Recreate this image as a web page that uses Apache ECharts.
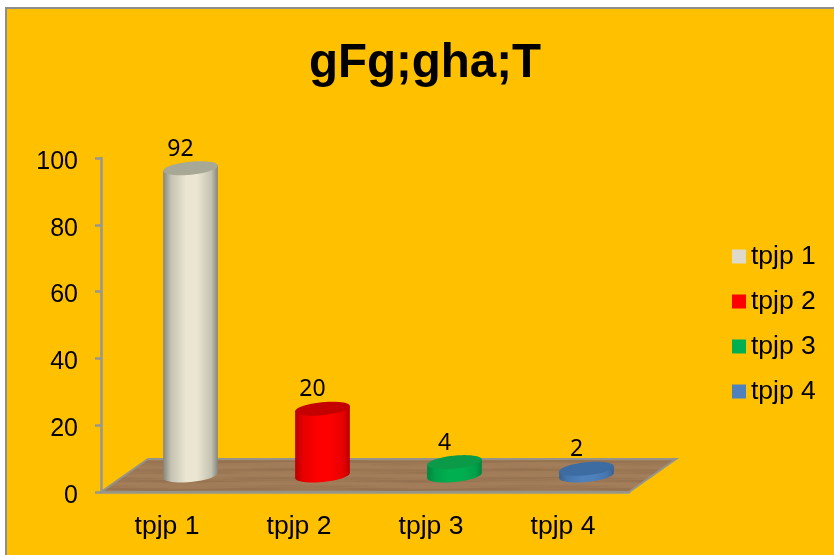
<!DOCTYPE html>
<html>
<head>
<meta charset="utf-8">
<title>gFg;gha;T</title>
<script src="https://cdn.jsdelivr.net/npm/echarts@6/dist/echarts.min.js"></script>
<style>
html, body { margin: 0; padding: 0; background: #fff; overflow: hidden; }
#main { width: 834px; height: 555px; }
</style>
</head>
<body>
<div id="main"></div>
<script>
var titleText = "gFg;gha;T";
var categories = ["tpjp 1", "tpjp 2", "tpjp 3", "tpjp 4"];
var seriesNames = ["tpjp 1", "tpjp 2", "tpjp 3", "tpjp 4"];
var seriesValues = [92, 20, 4, 2];
var yTicks = { min: 0, max: 100, interval: 20 };

// colours of each cylinder: edge, soft, middle, lid, legend
var cylinderColors = [
    { edge: "#85857a", soft: "#c4c2b1", mid: "#ebe6d2", lid: "#a8a896", legend: "#dddacb" },
    { edge: "#b80000", soft: "#e60000", mid: "#ff0000", lid: "#c40000", legend: "#ff0000" },
    { edge: "#00863c", soft: "#00a049", mid: "#00b050", lid: "#0b9a48", legend: "#00b050" },
    { edge: "#38618f", soft: "#4675ad", mid: "#4f81bd", lid: "#3d6ca3", legend: "#4f81bd" }
];

// the 3d look: depth of the floor, cylinder size
var depthX = 47, depthY = 33;
var radiusX = 27.5, radiusY = 6.5, tilt = 0.1;

// wood texture for the floor, repeats cleanly across its width
function woodTexture() {
    var w = 240, h = 36;
    var c = document.createElement("canvas");
    c.width = w;
    c.height = h;
    var ctx = c.getContext("2d");
    ctx.fillStyle = "#a07b58";
    ctx.fillRect(0, 0, w, h);
    for (var y = 0; y < h; y++) {
        for (var x = 0; x < w; x += 4) {
            var t = Math.PI * 2 * x / w;
            var n = Math.sin(y * Math.PI * 2 / 9 + Math.sin(t) * 0.8) + Math.sin(y * Math.PI * 2 / 4 + Math.sin(t * 2 + y)) * 0.5;
            ctx.fillStyle = n > 0 ? "rgba(80,50,28," + (n * 0.09) + ")" : "rgba(190,150,115," + (-n * 0.1) + ")";
            ctx.fillRect(x, y, 4, 1);
        }
    }
    return c;
}
var wood = woodTexture();

function renderFloor(params, api) {
    var cs = params.coordSys;
    var x0 = cs.x, x1 = cs.x + cs.width, y0 = cs.y + cs.height;
    return {
        type: "polygon",
        shape: { points: [[x0, y0], [x1, y0], [x1 + depthX, y0 - depthY], [x0 + depthX, y0 - depthY]] },
        style: { fill: { image: wood, repeat: "repeat" }, stroke: "#95938a", lineWidth: 2 }
    };
}

function ellipsePoint(cx, cy, a) {
    var ex = radiusX * Math.cos(a), ey = radiusY * Math.sin(a);
    return [cx + ex * Math.cos(tilt) + ey * Math.sin(tilt), cy - ex * Math.sin(tilt) + ey * Math.cos(tilt)];
}

function cylinderRenderer(colors) {
    return function (params, api) {
        var base = api.coord([api.value(0), 0]);
        var top = api.coord([api.value(0), api.value(1)]);
        var cx = base[0] + depthX / 2, by = base[1] - depthY / 2, ty = top[1] - depthY / 2;
        var body = [], lid = [], i;
        body.push(ellipsePoint(cx, ty, Math.PI));
        for (i = 0; i <= 24; i++) {
            body.push(ellipsePoint(cx, by, Math.PI - Math.PI * i / 24));
        }
        body.push(ellipsePoint(cx, ty, 0));
        for (i = 0; i < 48; i++) {
            lid.push(ellipsePoint(cx, ty, Math.PI * 2 * i / 48));
        }
        var fill = new echarts.graphic.LinearGradient(0, 0, 1, 0, [
            { offset: 0, color: colors.edge },
            { offset: 0.14, color: colors.soft },
            { offset: 0.42, color: colors.mid },
            { offset: 0.62, color: colors.mid },
            { offset: 0.88, color: colors.soft },
            { offset: 1, color: colors.edge }
        ]);
        return {
            type: "group",
            children: [
                { type: "polygon", shape: { points: body }, style: { fill: fill } },
                { type: "polygon", shape: { points: lid }, style: { fill: colors.lid } },
                {
                    type: "text",
                    style: {
                        text: String(api.value(1)),
                        x: cx - 10,
                        y: ty - 19,
                        align: "center",
                        verticalAlign: "middle",
                        fill: "#000",
                        font: "23px 'Noto Sans'"
                    }
                }
            ]
        };
    };
}

var series = [{
    type: "custom",
    name: "floor",
    silent: true,
    z: 1,
    clip: false,
    data: [[0, 0]],
    renderItem: renderFloor
}];
seriesNames.forEach(function (name, i) {
    series.push({
        type: "custom",
        name: name,
        z: 3,
        clip: false,
        itemStyle: { color: cylinderColors[i].legend },
        encode: { x: 0, y: 1 },
        data: [[i, seriesValues[i]]],
        renderItem: cylinderRenderer(cylinderColors[i])
    });
});

var chart = echarts.init(document.getElementById("main"), null, { renderer: "canvas" });
chart.setOption({
    animation: false,
    backgroundColor: "#fff",
    graphic: [{
        type: "rect",
        z: -10,
        silent: true,
        shape: { x: 6, y: 8, width: 900, height: 600 },
        style: { fill: "#ffc000", stroke: "#8e8e8e", lineWidth: 2 }
    }],
    title: {
        text: titleText,
        left: 420,
        top: 35,
        textAlign: "center",
        textStyle: { fontFamily: "Liberation Sans", fontSize: 47.5, fontWeight: "bold", color: "#000" }
    },
    legend: {
        orient: "vertical",
        left: 732,
        top: 243,
        padding: 0,
        data: seriesNames,
        icon: "rect",
        itemWidth: 14,
        itemHeight: 14,
        itemGap: 18,
        selectedMode: false,
        textStyle: { fontFamily: "Liberation Sans", fontSize: 26.5, lineHeight: 25, color: "#000" }
    },
    grid: { left: 101, top: 158, width: 528, height: 334, containLabel: false },
    xAxis: {
        type: "category",
        data: categories,
        axisLine: { lineStyle: { color: "#969696", width: 2.5 } },
        axisTick: { length: 8, lineStyle: { color: "#969696", width: 2.5 } },
        axisLabel: { fontFamily: "Liberation Sans", fontSize: 26.5, color: "#000", margin: 21 }
    },
    yAxis: {
        type: "value",
        min: yTicks.min,
        max: yTicks.max,
        interval: yTicks.interval,
        axisLine: { show: true, lineStyle: { color: "#969696", width: 2.5 } },
        axisTick: { show: true, length: 6, lineStyle: { color: "#969696", width: 2.5 } },
        axisLabel: { fontFamily: "Liberation Sans", fontSize: 25, color: "#000", margin: 23, verticalAlign: "top", lineHeight: 8 },
        splitLine: { show: false }
    },
    series: series
});
</script>
</body>
</html>
